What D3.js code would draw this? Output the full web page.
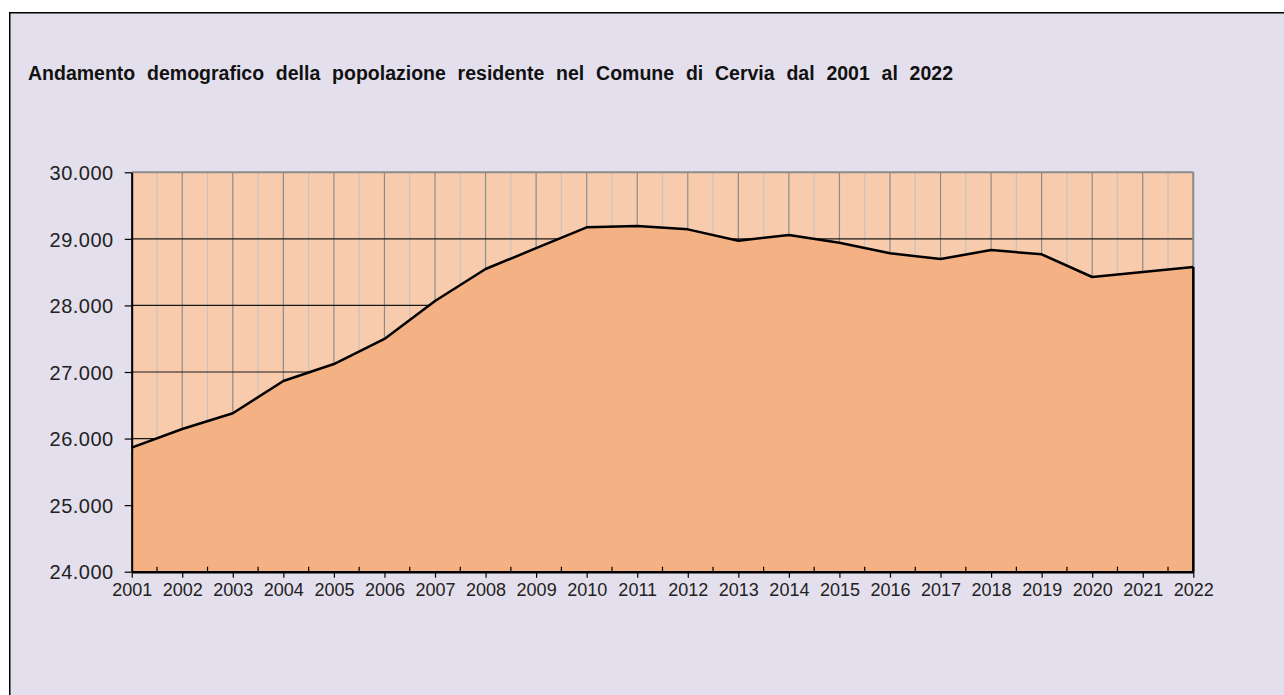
<!DOCTYPE html>
<html><head><meta charset="utf-8">
<script src="https://cdn.jsdelivr.net/npm/d3@7"></script>
<style>html,body{margin:0;padding:0;background:#fff;overflow:hidden}</style>
</head><body>
<svg id="c" width="1284" height="695"></svg>
<script>
const title = "Andamento demografico della popolazione residente nel Comune di Cervia dal 2001 al 2022";
const years = [2001,2002,2003,2004,2005,2006,2007,2008,2009,2010,2011,2012,2013,2014,2015,2016,2017,2018,2019,2020,2021,2022];
const population = [25863,26144,26380,26865,27120,27496,28066,28547,28860,29173,29193,29143,28972,29058,28942,28783,28697,28832,28768,28427,28502,28577];
const yTicks = [24000,25000,26000,27000,28000,29000,30000];

const svg = d3.select("#c");
const W = 1284, H = 695;
const L = 131.7, R = 1193.3, T = 172.3, B = 571.7;

svg.append("rect").attr("x",0).attr("y",0).attr("width",W).attr("height",H).attr("fill","#fff");
svg.append("rect").attr("x",10).attr("y",13).attr("width",W).attr("height",H).attr("fill","#E4DFEC");
svg.append("path").attr("d",`M9.75,${H}V12.75H${W}`).attr("fill","none").attr("stroke","#000").attr("stroke-width",1.5);

svg.append("text").attr("x",28).attr("y",80)
  .attr("font-family","Liberation Sans, Arial, sans-serif").attr("font-weight","bold")
  .attr("font-size",19.5).attr("fill","#111").attr("id","ttl").text(title);
const tt = document.getElementById("ttl");
const tw = tt.getComputedTextLength();
const nSpaces = title.split(" ").length - 1;
tt.setAttribute("word-spacing", Math.max(0, ((953 - 28) - tw) / nSpaces));

const x = d3.scaleLinear().domain([2001,2022]).range([L,R]);
const y = d3.scaleLinear().domain([24000,30000]).range([B,T]);

svg.append("rect").attr("x",L).attr("y",T).attr("width",R-L).attr("height",B-T).attr("fill","#F8CBAD");

const halfYears = d3.range(2001.5, 2022, 1);
svg.append("g").selectAll("line").data(halfYears).join("line")
  .attr("x1",d=>x(d)).attr("x2",d=>x(d)).attr("y1",T).attr("y2",B)
  .attr("stroke","#C9C2BE").attr("stroke-width",1.2);
svg.append("g").selectAll("line").data(years).join("line")
  .attr("x1",d=>x(d)).attr("x2",d=>x(d)).attr("y1",T).attr("y2",B)
  .attr("stroke","#8C8C8C").attr("stroke-width",1.2);
svg.append("g").selectAll("line").data(yTicks.slice(1,-1)).join("line")
  .attr("x1",L).attr("x2",R).attr("y1",d=>y(d)).attr("y2",d=>y(d))
  .attr("stroke","#1a1a1a").attr("stroke-width",1.2);
svg.append("line").attr("x1",L).attr("x2",R).attr("y1",T).attr("y2",T).attr("stroke","#8C8C8C").attr("stroke-width",2);
svg.append("line").attr("x1",R).attr("x2",R).attr("y1",T).attr("y2",B).attr("stroke","#8C8C8C").attr("stroke-width",2);

const data = years.map((yr,i)=>({yr, v: population[i]}));
const area = d3.area().x(d=>x(d.yr)).y0(y(24000)).y1(d=>y(d.v));
svg.append("path").datum(data).attr("d",area).attr("fill","#F4B183");
const line = d3.line().x(d=>x(d.yr)).y(d=>y(d.v));
svg.append("path").datum(data).attr("d",line).attr("fill","none").attr("stroke","#000").attr("stroke-width",2.5).attr("stroke-linejoin","round");
const last = data[data.length-1];
svg.append("line").attr("x1",x(last.yr)).attr("x2",x(last.yr)).attr("y1",y(last.v)).attr("y2",y(24000)).attr("stroke","#000").attr("stroke-width",2.5);

// y axis
const yAxis = svg.append("g").attr("transform",`translate(${L},0)`)
  .call(d3.axisLeft(y).tickValues(yTicks).tickSize(7).tickSizeOuter(0).tickPadding(11)
    .tickFormat(d=>d3.format(",")(d).replace(/,/g,".")));
yAxis.select(".domain").attr("stroke","#000").attr("stroke-width",2);
yAxis.selectAll(".tick line").attr("stroke","#000").attr("stroke-width",1.2);
yAxis.selectAll("text").attr("font-family","Liberation Sans, Arial, sans-serif").attr("font-size",20)
  .attr("letter-spacing",0.5).attr("fill","#222").attr("dy","0.36em");

// x axis
const xAxis = svg.append("g").attr("transform",`translate(0,${B})`)
  .call(d3.axisBottom(x).tickValues(years).tickSize(6).tickSizeOuter(0).tickPadding(6).tickFormat(d3.format("d")));
xAxis.select(".domain").attr("stroke","#000").attr("stroke-width",2.5);
xAxis.selectAll(".tick line").attr("stroke","#000").attr("stroke-width",1.2);
xAxis.selectAll("text").attr("font-family","Liberation Sans, Arial, sans-serif").attr("font-size",18).attr("fill","#222");
svg.append("g").selectAll("line").data(halfYears).join("line")
  .attr("x1",d=>x(d)).attr("x2",d=>x(d)).attr("y1",B-5).attr("y2",B)
  .attr("stroke","#000").attr("stroke-width",1.2);
</script>
</body></html>
